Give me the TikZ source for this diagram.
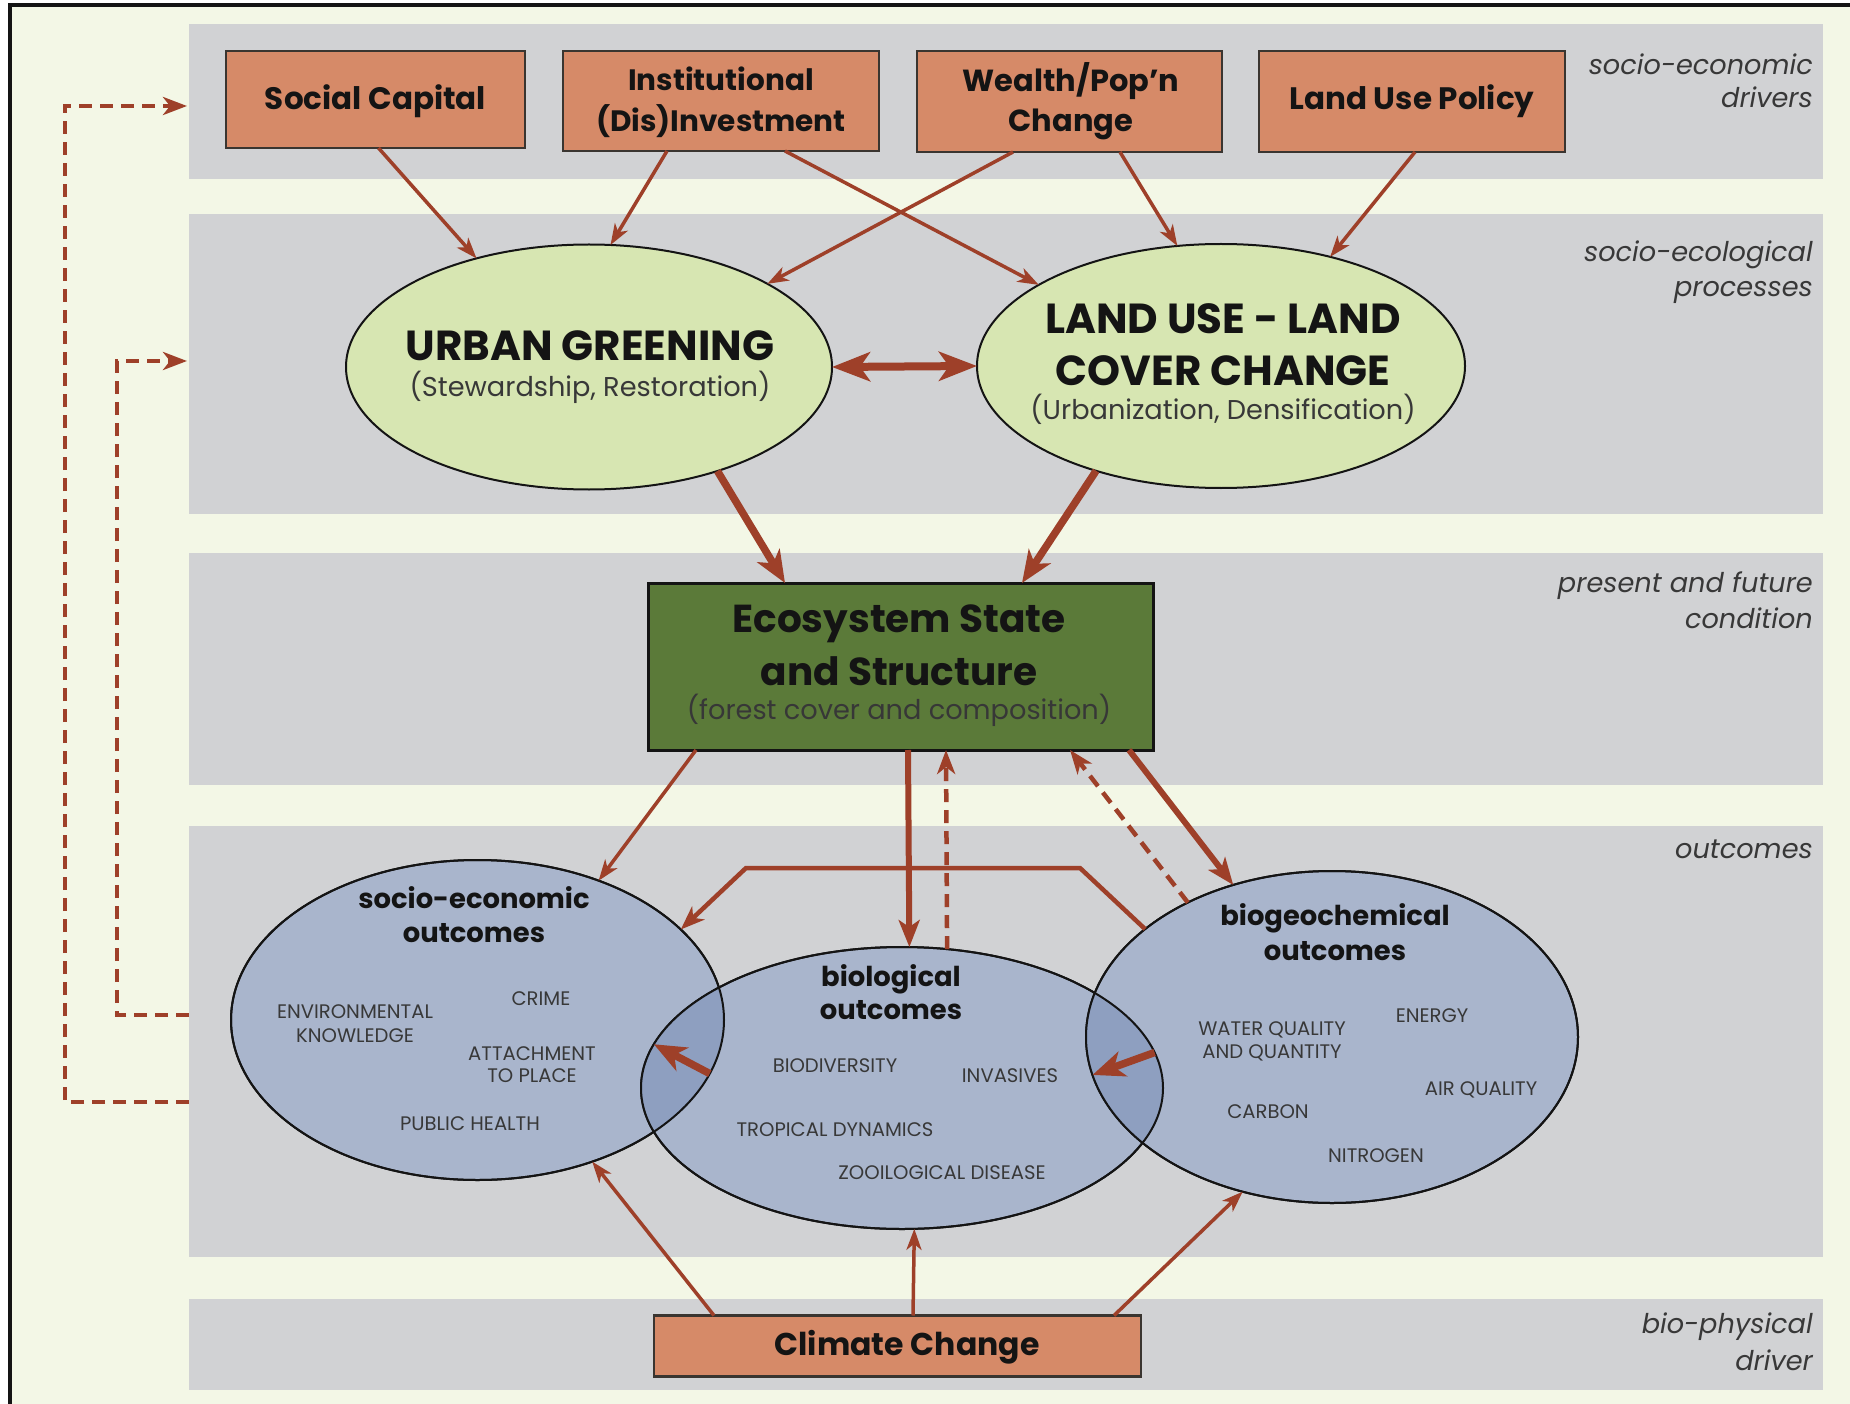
\documentclass[tikz,border=0pt]{standalone}
\usepackage{fontspec}
\setmainfont{Poppins}
\usetikzlibrary{arrows.meta,shapes.geometric}
\definecolor{cream}{HTML}{F3F7E6}
\definecolor{band}{HTML}{D1D2D4}
\definecolor{salmon}{HTML}{D68A68}
\definecolor{boxline}{HTML}{3A3530}
\definecolor{leaf}{HTML}{D7E6B2}
\definecolor{eco}{HTML}{5B7A39}
\definecolor{circ}{HTML}{A9B5CC}
\definecolor{lens}{HTML}{8E9FC0}
\definecolor{rust}{HTML}{9E4029}
\definecolor{lab}{HTML}{383838}
\definecolor{ink}{HTML}{141414}
\begin{document}
\begin{tikzpicture}[x=1pt,y=-1pt,
  drv/.style={draw=boxline,line width=2.5pt,fill=salmon,inner sep=0,outer sep=0,rectangle},
  green/.style={ellipse,draw=ink,line width=2pt,fill=leaf,inner sep=0,outer sep=0},
  outc/.style={ellipse,draw=ink,line width=2pt,fill=circ,inner sep=0,outer sep=0},
  boxtxt/.style={font=\fontsize{31}{36}\selectfont\bfseries,text=ink,anchor=base,inner sep=0},
  bigtxt/.style={font=\fontsize{42}{48}\selectfont\bfseries,text=ink,anchor=base,inner sep=0},
  ecotxt/.style={font=\fontsize{39}{45}\selectfont\bfseries,text=ink,anchor=base,inner sep=0},
  partxt/.style={font=\fontsize{27.2}{32}\selectfont,text=lab,anchor=base,inner sep=0},
  ctitle/.style={font=\fontsize{27.4}{32}\selectfont\bfseries,text=ink,anchor=base,inner sep=0},
  item/.style={font=\fontsize{19.6}{22}\selectfont,text=lab,anchor=base,inner sep=0},
  side/.style={font=\fontsize{27.2}{32}\selectfont\itshape,text=lab,anchor=base east,inner sep=0},
  ar/.style={draw=rust,line width=3.5pt,-{Stealth[length=21pt,width=15pt,inset=6pt]}},
  arM/.style={draw=rust,line width=6pt,-{Stealth[length=27pt,width=21pt,inset=7pt]}},
  arP/.style={draw=rust,line width=4.5pt,-{Stealth[length=24pt,width=18pt,inset=7pt]}},
  arT/.style={draw=rust,line width=7.5pt,-{Stealth[length=32pt,width=26pt,inset=9pt]}},
  arDbl/.style={draw=rust,line width=8pt,{Stealth[length=38pt,width=29pt,inset=10pt]}-{Stealth[length=38pt,width=29pt,inset=10pt]}},
  arD/.style={draw=rust,line width=4.5pt,dash pattern=on 13pt off 8pt,-{Stealth[length=24pt,width=18pt,inset=7pt]}}
]
\useasboundingbox (0,0) rectangle (1850,1404);
\fill[white] (0,0) rectangle (1850,1404);
\fill[cream] (9.5,5) rectangle (1850,1404);
\draw[line width=4pt,ink] (9.5,1404) -- (9.5,5) -- (1850,5);

% bands
\fill[band] (189,24) rectangle (1823,179);
\fill[band] (189,214) rectangle (1823,514);
\fill[band] (189,553) rectangle (1823,785);
\fill[band] (189,826) rectangle (1823,1257);
\fill[band] (189,1299) rectangle (1823,1390);

% side labels
\node[side] (l1a) at (1813,75) {socio-economic};
\node[side] (l1b) at (1813,108) {drivers};
\node[side] (l2a) at (1813,262) {socio-ecological};
\node[side] (l2b) at (1813,297) {processes};
\node[side] (l3a) at (1813,592) {present and future};
\node[side] (l3b) at (1813,628) {condition};
\node[side] (l4a) at (1813,858) {outcomes};
\node[side] (l5a) at (1813,1333) {bio-physical};
\node[side] (l5b) at (1813,1370) {driver};

% driver boxes
\node[drv,minimum width=299pt,minimum height=97pt] (sc) at (375.5,99.5) {};
\node[drv,minimum width=316pt,minimum height=100pt] (inst) at (721,101) {};
\node[drv,minimum width=305pt,minimum height=101pt] (wp) at (1069.5,101.5) {};
\node[drv,minimum width=306pt,minimum height=101pt] (lup) at (1412,101.5) {};
\node[boxtxt] (sct) at (375.5,110) {Social Capital};
\node[boxtxt,font=\fontsize{29.5}{36}\selectfont\bfseries] (inst1) at (721,91) {Institutional};
\node[boxtxt,font=\fontsize{29.5}{36}\selectfont\bfseries] (inst2) at (721,132) {(Dis)Investment};
\node[boxtxt,font=\fontsize{30.5}{36}\selectfont\bfseries] (wp1) at (1071,92) {Wealth/Pop’n};
\node[boxtxt,font=\fontsize{30.5}{36}\selectfont\bfseries] (wp2) at (1071,132) {Change};
\node[boxtxt] (lupt) at (1412,110) {Land Use Policy};

% process ellipses
\node[green,minimum width=486pt,minimum height=245pt] (ug) at (589,367) {};
\node[green,minimum width=488pt,minimum height=244pt] (lu) at (1221,366) {};
\node[bigtxt] (ug1) at (590,361) {URBAN GREENING};
\node[partxt] (ug2) at (590,397) {(Stewardship, Restoration)};
\node[bigtxt] (lu1) at (1223,334) {LAND USE - LAND};
\node[bigtxt] (lu2) at (1223,385) {COVER CHANGE};
\node[partxt] (lu3) at (1223,420) {(Urbanization, Densification)};

% ecosystem
\node[draw=ink,line width=3pt,fill=eco,inner sep=0,outer sep=0,minimum width=505pt,minimum height=167pt] (eco) at (900.5,666.5) {};
\node[ecotxt] (eco1) at (899,632) {Ecosystem State};
\node[ecotxt] (eco2) at (899,685) {and Structure};
\node[partxt,text=ink!85] (eco3) at (899,719) {(forest cover and composition)};

% outcome ellipses
\node[outc,minimum width=493pt,minimum height=320pt] (se) at (477.5,1020) {};
\node[outc,minimum width=522pt,minimum height=282pt] (bio) at (902,1088) {};
\node[outc,minimum width=492pt,minimum height=332pt] (bgc) at (1332,1037) {};
\begin{scope}
  \clip (477.5,1020) ellipse [x radius=246.5pt, y radius=160pt];
  \fill[lens] (902,1088) ellipse [x radius=261pt, y radius=141pt];
\end{scope}
\begin{scope}
  \clip (1332,1037) ellipse [x radius=246pt, y radius=166pt];
  \fill[lens] (902,1088) ellipse [x radius=261pt, y radius=141pt];
\end{scope}
\draw[ink,line width=2pt] (477.5,1020) ellipse [x radius=246.5pt, y radius=160pt];
\draw[ink,line width=2pt] (902,1088) ellipse [x radius=261pt, y radius=141pt];
\draw[ink,line width=2pt] (1332,1037) ellipse [x radius=246pt, y radius=166pt];

\node[ctitle] (se1) at (474,908) {socio-economic};
\node[ctitle] (se2) at (474,942) {outcomes};
\node[ctitle] (bio1) at (891,986) {biological};
\node[ctitle] (bio2) at (891,1019) {outcomes};
\node[ctitle] (bgc1) at (1335,925) {biogeochemical};
\node[ctitle] (bgc2) at (1335,960) {outcomes};

\node[item] (i1) at (355,1018) {ENVIRONMENTAL};
\node[item] (i2) at (355,1042) {KNOWLEDGE};
\node[item] (i3) at (541,1005) {CRIME};
\node[item] (i4) at (532,1060) {ATTACHMENT};
\node[item] (i5) at (532,1082) {TO PLACE};
\node[item] (i6) at (470,1130) {PUBLIC HEALTH};
\node[item] (i7) at (835,1072) {BIODIVERSITY};
\node[item] (i8) at (1010,1082) {INVASIVES};
\node[item] (i9) at (835,1136) {TROPICAL DYNAMICS};
\node[item] (i10) at (942,1179) {ZOOILOGICAL DISEASE};
\node[item] (i11) at (1272,1035) {WATER QUALITY};
\node[item] (i12) at (1272,1058) {AND QUANTITY};
\node[item] (i13) at (1432,1022) {ENERGY};
\node[item] (i14) at (1481,1095) {AIR QUALITY};
\node[item] (i15) at (1268,1118) {CARBON};
\node[item] (i16) at (1376,1162) {NITROGEN};

% climate
\node[drv,minimum width=487pt,minimum height=61pt] (cc) at (897.5,1346) {};
\node[boxtxt,font=\fontsize{31.5}{36}\selectfont\bfseries] (cct) at (907,1355) {Climate Change};

% arrows top
\draw[ar] ([xshift=3pt]sc.south) -- (ug.136.5);
\draw[ar] ([xshift=-54pt]inst.south) -- (ug.80.7);
\draw[ar] ([xshift=64pt]inst.south) -- (lu.156.1);
\draw[ar] ([xshift=-56.5pt]wp.south) -- (ug.25.2);
\draw[ar] ([xshift=50.5pt]wp.south) -- (lu.110.4);
\draw[ar] ([xshift=3pt]lup.south) -- (lu.45.8);
\draw[arDbl] (ug.east) -- (lu.west);
\draw[arT] (ug.-39.6) -- ([xshift=-115.5pt]eco.north);
\draw[arT] (lu.-140.8) -- ([xshift=121.5pt]eco.north);

% arrows middle
\draw[ar] ([xshift=-204.5pt]eco.south) -- (se.49.6);
\draw[arM] ([xshift=7.5pt]eco.south) -- (bio.87.6);
\draw[arD] (bio.72.7) -- ([xshift=45.5pt]eco.south);
\draw[arD] (bgc.137) -- ([xshift=169.5pt]eco.south);
\draw[arM] ([xshift=228.5pt]eco.south) -- (bgc.123.6);
\coordinate (k1) at (1080,868);
\coordinate (k2) at (746,868);
\draw[arP,line join=miter] (bgc.150.5) -- (k1) -- (k2) -- (se.24.1);
\draw[arT] (se.-13.6) -- (bio.170.5);
\draw[arT] (bio.8) -- (bgc.-171.3);

% climate arrows
\draw[ar] ([xshift=-183.5pt]cc.north) -- (se.-51.8);
\draw[ar] ([xshift=15.5pt]cc.north) -- (bio.-85.5);
\draw[ar] ([xshift=216.5pt]cc.north) -- (bgc.-120.1);

% feedback loops
\coordinate (f1) at (189,1102);
\coordinate (f1t) at (187,106);
\coordinate (f2) at (189,1015);
\coordinate (f2t) at (187,361);
\draw[arD] (f1) -- ++(-124,0) |- (f1t);
\draw[arD] (f2) -- ++(-72,0) |- (f2t);
\end{tikzpicture}
\end{document}
